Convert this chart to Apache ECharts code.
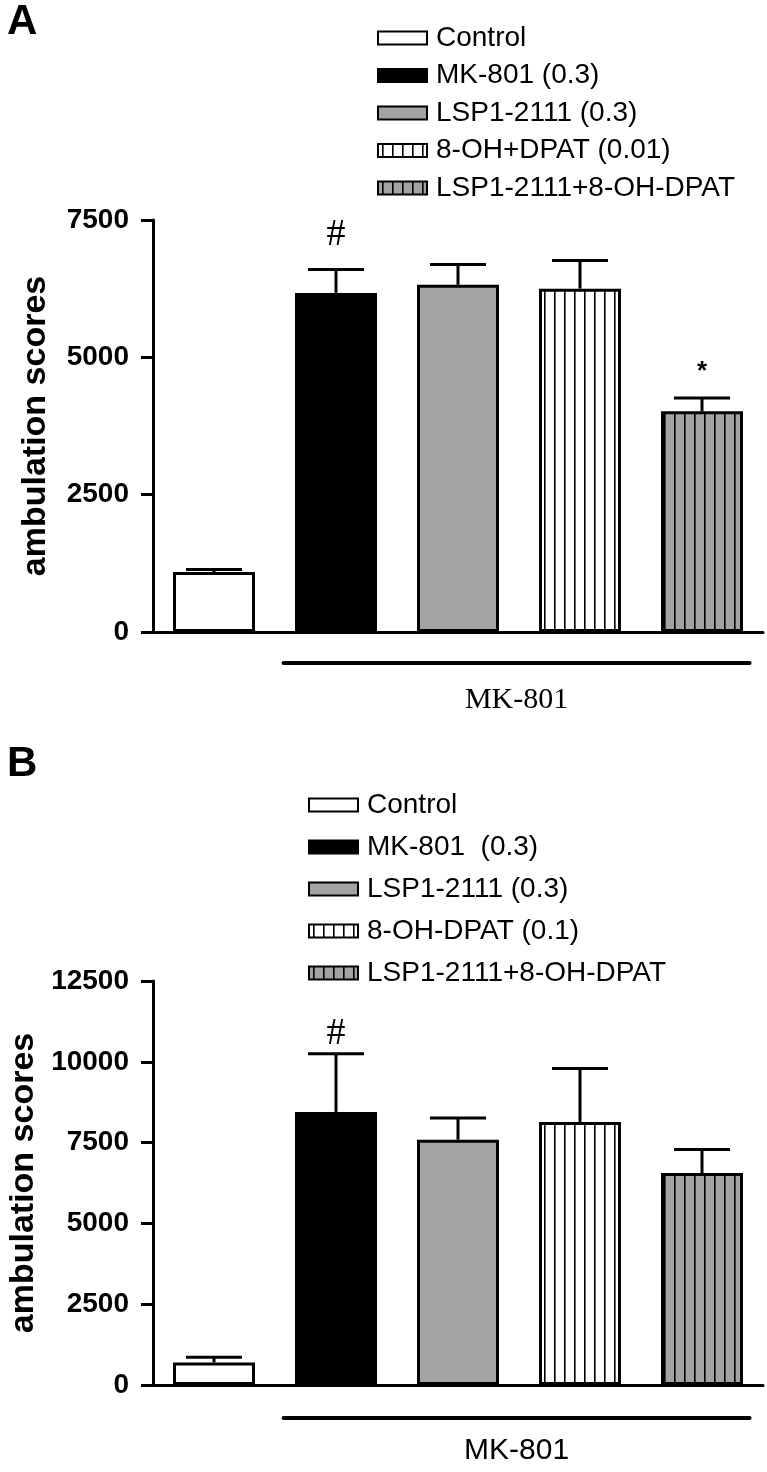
<!DOCTYPE html>
<html>
<head>
<meta charset="utf-8">
<script src="https://cdn.jsdelivr.net/npm/echarts@6/dist/echarts.min.js"></script>
<style>
  html, body { margin: 0; padding: 0; background: #fff; }
  #chart { width: 767px; height: 1472px; }
</style>
</head>
<body>
<div id="chart"></div>
<script>
// panel A
const groupsA = ['Control', 'MK-801 (0.3)', 'LSP1-2111 (0.3)', '8-OH+DPAT (0.01)', 'LSP1-2111+8-OH-DPAT']
const meanA = [1090, 6170, 6320, 6250, 4020]
const semA = [50, 430, 370, 515, 240]
const sigA = ['', '#', '', '', '*']
const ticksA = [0, 2500, 5000, 7500]

// panel B
const groupsB = ['Control', 'MK-801  (0.3)', 'LSP1-2111 (0.3)', '8-OH-DPAT (0.1)', 'LSP1-2111+8-OH-DPAT']
const meanB = [700, 8450, 7590, 8140, 6560]
const semB = [160, 1800, 670, 1650, 730]
const sigB = ['', '#', '', '', '']
const ticksB = [0, 2500, 5000, 7500, 10000, 12500]

const yTitle = 'ambulation scores'
const bracketText = 'MK-801'
const bracketFrom = 1
const bracketTo = 4

const SANS = '"Liberation Sans", Arial, sans-serif'
const SERIF = '"Liberation Serif", "Times New Roman", serif'

function stripes (bg) {
  const c = document.createElement('canvas')
  c.width = 10
  c.height = 10
  const ctx = c.getContext('2d')
  ctx.fillStyle = bg
  ctx.fillRect(0, 0, 10, 10)
  ctx.fillStyle = '#000'
  ctx.fillRect(4, 0, 1.6, 10)
  return { image: c, repeat: 'repeat' }
}

const fills = ['#fff', '#000', '#a3a3a3', stripes('#fff'), stripes('#a3a3a3')]

function barSeries (groups, means, idx) {
  return groups.map((name, i) => ({
    name: name,
    type: 'bar',
    xAxisIndex: idx,
    yAxisIndex: idx,
    barWidth: 82,
    barGap: '-100%',
    data: means.map((v, j) => (j === i ? v : '-')),
    itemStyle: { color: fills[i], borderColor: '#000', borderWidth: 3 }
  }))
}

// sem bars (upper only) + significance marks
function errSeries (means, sems, sigs, idx, hashSize, hashOff) {
  return {
    type: 'custom',
    xAxisIndex: idx,
    yAxisIndex: idx,
    z: 5,
    silent: true,
    data: means.map((m, i) => [i, m, m + sems[i]]),
    renderItem (params, api) {
      const i = api.value(0)
      const base = api.coord([i, api.value(1)])
      const top = api.coord([i, api.value(2)])
      const half = 28
      const children = [
        { type: 'line', shape: { x1: base[0], y1: base[1], x2: top[0], y2: top[1] }, style: { stroke: '#000', lineWidth: 3 } },
        { type: 'line', shape: { x1: top[0] - half, y1: top[1], x2: top[0] + half, y2: top[1] }, style: { stroke: '#000', lineWidth: 3 } }
      ]
      if (sigs[i]) {
        const star = sigs[i] === '*'
        children.push({
          type: 'text',
          style: {
            text: sigs[i],
            x: top[0],
            y: top[1] - (star ? 13 : hashOff),
            align: 'center',
            verticalAlign: 'bottom',
            fill: '#000',
            font: (star ? 'bold 26px ' + SANS : hashSize + 'px ' + SERIF)
          }
        })
      }
      return { type: 'group', children: children }
    }
  }
}

function bracketSeries (idx, font, lineOff, textOff) {
  return {
    type: 'custom',
    xAxisIndex: idx,
    yAxisIndex: idx,
    silent: true,
    clip: false,
    data: [[bracketFrom, bracketTo]],
    renderItem (params, api) {
      const a = api.coord([api.value(0), 0])
      const b = api.coord([api.value(1), 0])
      const band = api.size([1, 0])[0]
      const x1 = a[0] - band * 0.43
      const x2 = b[0] + band * 0.39
      return {
        type: 'group',
        children: [
          { type: 'line', shape: { x1: x1, y1: a[1] + lineOff, x2: x2, y2: a[1] + lineOff }, style: { stroke: '#000', lineWidth: 4, lineCap: 'round' } },
          { type: 'text', style: { text: bracketText, x: (x1 + x2) / 2, y: a[1] + textOff, align: 'center', verticalAlign: 'middle', fill: '#000', font: font } }
        ]
      }
    }
  }
}

function yAxis (idx, ticks, titleSize, gap) {
  return {
    gridIndex: idx,
    type: 'value',
    min: 0,
    max: ticks[ticks.length - 1],
    interval: ticks[1] - ticks[0],
    name: yTitle,
    nameLocation: 'middle',
    nameRotate: 90,
    nameGap: gap,
    nameTextStyle: { color: '#000', fontSize: titleSize, fontWeight: 'bold', fontFamily: SANS },
    axisLine: { show: true, lineStyle: { color: '#000', width: 3 } },
    axisTick: { show: true, length: 12, lineStyle: { color: '#000', width: 3 } },
    axisLabel: { margin: 24, color: '#000', fontSize: 28, fontWeight: 'bold', fontFamily: SANS, formatter: v => String(v) },
    splitLine: { show: false }
  }
}

function xAxis (idx, groups) {
  return {
    gridIndex: idx,
    type: 'category',
    data: groups,
    axisLine: { lineStyle: { color: '#000', width: 3 } },
    axisTick: { show: false },
    axisLabel: { show: false }
  }
}

function legend (groups, left, top, gap) {
  return {
    data: groups,
    orient: 'vertical',
    left: left,
    top: top,
    padding: 0,
    icon: 'rect',
    itemWidth: 49,
    itemHeight: 13,
    itemGap: gap,
    selectedMode: false,
    textStyle: { color: '#000', fontSize: 28, fontFamily: SANS, padding: [0, 0, 0, 4] }
  }
}

const chart = echarts.init(document.getElementById('chart'), null, { renderer: 'canvas' })
chart.setOption({
  animation: false,
  backgroundColor: '#fff',
  title: [
    { text: 'A', left: 7, top: 1, padding: 0, textStyle: { fontSize: 42, fontWeight: 'bold', fontFamily: SANS, color: '#000' } },
    { text: 'B', left: 7, top: 743, padding: 0, textStyle: { fontSize: 42, fontWeight: 'bold', fontFamily: SANS, color: '#000' } }
  ],
  legend: [
    legend(groupsA, 377, 24, 9.5),
    legend(groupsB, 308, 791, 14)
  ],
  grid: [
    { left: 153, right: 4, top: 220, height: 412, outerBoundsMode: 'none' },
    { left: 153, right: 4, top: 981, height: 404, outerBoundsMode: 'none' }
  ],
  xAxis: [xAxis(0, groupsA), xAxis(1, groupsB)],
  yAxis: [yAxis(0, ticksA, 34, 100), yAxis(1, ticksB, 34, 100)],
  series: [].concat(
    barSeries(groupsA, meanA, 0),
    barSeries(groupsB, meanB, 1),
    [errSeries(meanA, semA, sigA, 0, 38, 15), errSeries(meanB, semB, sigB, 1, 38, 1)],
    [bracketSeries(0, '30px ' + SERIF, 31, 68), bracketSeries(1, '30px ' + SANS, 33, 66)]
  )
})
</script>
</body>
</html>
